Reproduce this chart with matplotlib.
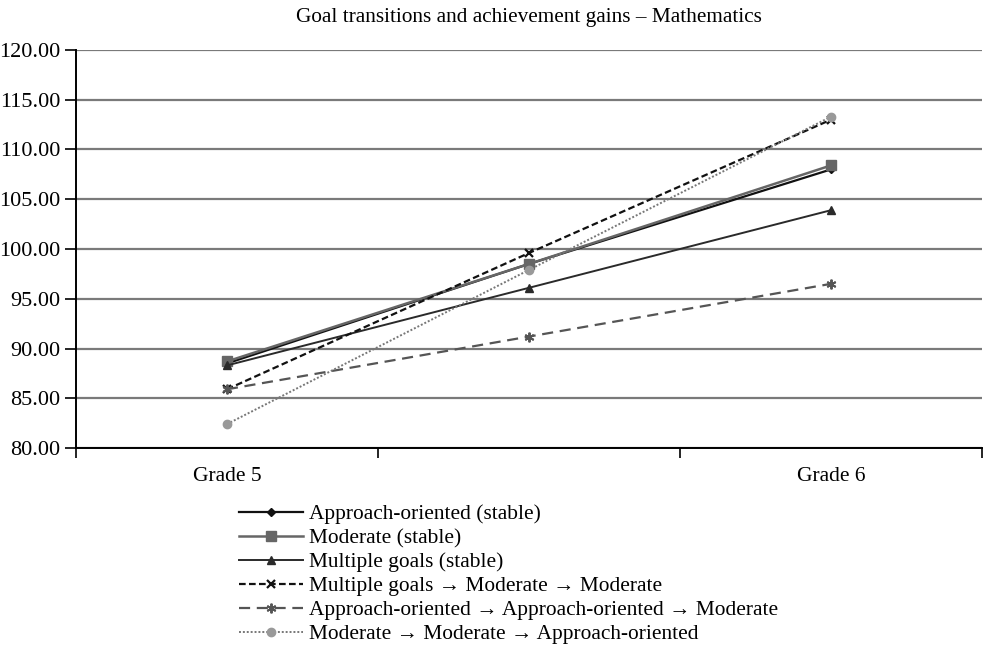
import matplotlib.pyplot as plt
import numpy as np

plt.rcParams['font.family'] = ['Liberation Serif', 'DejaVu Serif']

grades = ['Grade 5', '', 'Grade 6']
approach_stable = [88.5, 98.5, 108.0]
moderate_stable = [88.7, 98.5, 108.4]
multiple_stable = [88.3, 96.1, 103.9]
mult_mod_mod = [85.9, 99.6, 113.0]
app_app_mod = [85.9, 91.2, 96.5]
mod_mod_app = [82.4, 97.9, 113.3]

fig = plt.figure(figsize=(9.86, 6.45), dpi=100)
ax = fig.add_axes([0.077, 0.3054, 0.919, 0.6171])

x = np.arange(len(grades))
ax.plot(x, approach_stable, color='#111111', lw=1.6, marker='D', ms=4,
        label='Approach-oriented (stable)')
ax.plot(x, moderate_stable, color='#666666', lw=1.8, marker='s', ms=7,
        label='Moderate (stable)')
ax.plot(x, multiple_stable, color='#2a2a2a', lw=1.4, marker='^', ms=6,
        label='Multiple goals (stable)')
ax.plot(x, mult_mod_mod, color='#111111', lw=1.6, ls=(0, (3, 1.5)), marker='x', ms=6,
        mew=1.6, label='Multiple goals \u2192 Moderate \u2192 Moderate')
ax.plot(x, app_app_mod, color='#555555', lw=1.6, ls=(0, (5, 3)), marker=(6, 2, 0), ms=7,
        mew=1.4, label='Approach-oriented \u2192 Approach-oriented \u2192 Moderate')
ax.plot(x, mod_mod_app, color='#777777', lw=1.4, ls=(0, (1, 1)), marker='o', ms=6,
        mfc='#999999', mec='#999999',
        label='Moderate \u2192 Moderate \u2192 Approach-oriented')

ax.set_xlim(-0.5, 2.5)
ax.set_ylim(80, 120)
ax.set_yticks(np.arange(80, 121, 5))
ax.set_yticklabels([f'{v:.2f}' for v in np.arange(80, 121, 5)])
ax.set_xticks(x)
ax.set_xticklabels(grades)
ax.set_xticks(np.arange(-0.5, 2.6, 1), minor=True)
ax.tick_params(axis='x', which='major', length=0, pad=14, labelsize=15.5)
ax.tick_params(axis='x', which='minor', length=7, width=1.2, direction='out')
ax.tick_params(axis='y', length=8, width=1.2, labelsize=16, pad=3)

ax.yaxis.grid(True, color='#7a7a7a', lw=1.6)
ax.set_axisbelow(True)
for s in ['top', 'right']:
    ax.spines[s].set_visible(False)
for s in ['left', 'bottom']:
    ax.spines[s].set_linewidth(1.4)
    ax.spines[s].set_color('black')

ax.set_title('Goal transitions and achievement gains \u2013 Mathematics', fontsize=15.3, pad=20)

ax.legend(loc='upper left', bbox_to_anchor=(0.17, -0.12), frameon=False, fontsize=15.4,
          handlelength=3.0, labelspacing=0.19, handletextpad=0.3, borderaxespad=0)

fig.savefig('out.png', dpi=100)
